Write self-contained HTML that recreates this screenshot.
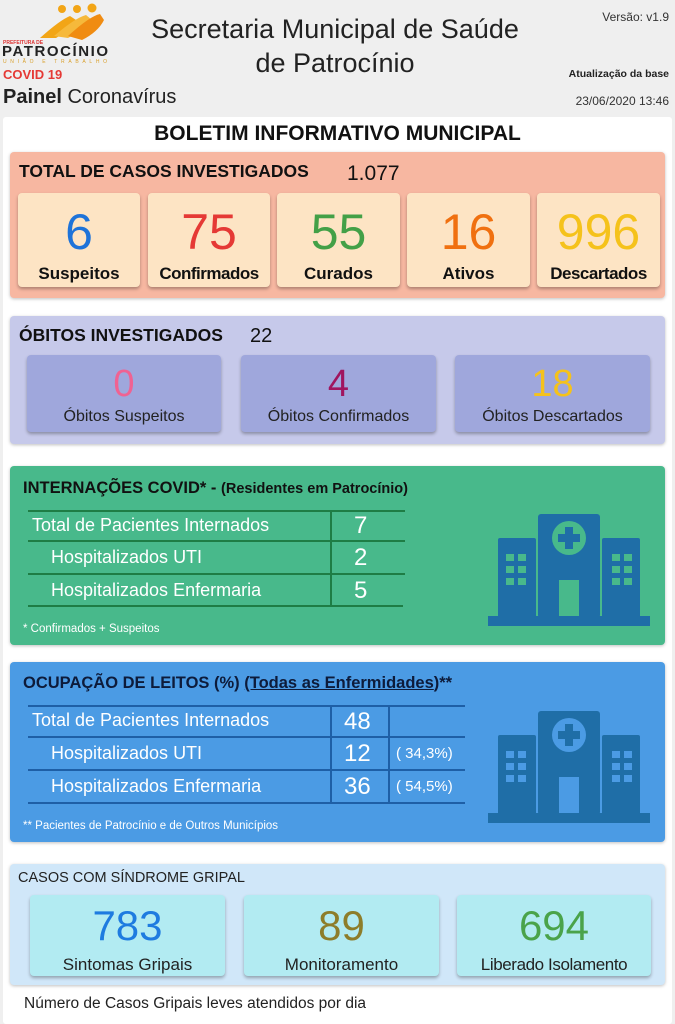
<!DOCTYPE html>
<html><head><meta charset="utf-8"><style>
*{margin:0;padding:0;box-sizing:border-box}
body{width:675px;height:1024px;background:#efefef;font-family:"Liberation Sans",sans-serif;position:relative;overflow:hidden;color:#111}
.a{position:absolute;white-space:nowrap;line-height:1}
.c{text-align:center}
.box{position:absolute;border-radius:4px;box-shadow:0 1px 3px rgba(0,0,0,.25)}
.card{position:absolute;border-radius:4px;box-shadow:0 2px 3px rgba(0,0,0,.3);text-align:center}
.card div{line-height:1}
.b{font-weight:bold}
.ln{position:absolute;height:2px}
.vl{position:absolute;width:2px}
.w{color:#fff}
</style></head><body>
<svg class="a" style="left:0;top:0" width="112" height="68" viewBox="0 0 112 68">
<g fill="#f2a516">
<circle cx="62" cy="9" r="4"/><circle cx="77" cy="9" r="4"/><circle cx="92" cy="8" r="4.5"/>
<path d="M40 38 Q60 20 70 16 L76 20 Q70 30 56 38 Z"/>
<path d="M54 36 Q75 18 86 15 L92 20 Q84 30 68 38 Z" fill="#f6b93b"/>
<path d="M68 36 Q90 16 100 14 L104 20 Q98 32 82 40 Z" fill="#f08c12"/>
</g>
<text x="3" y="44" font-size="5" fill="#d33" font-family="Liberation Sans" font-weight="bold">PREFEITURA DE</text>
<text x="2" y="56" font-size="15" fill="#222" font-family="Liberation Sans" font-weight="bold" textLength="106">PATROCÍNIO</text>
<text x="3" y="63" font-size="5" fill="#d9a02c" font-family="Liberation Sans" textLength="104">UNIÃO E TRABALHO</text>
</svg>
<div class="a b" style="left:3px;top:68px;font-size:13px;color:#e53935">COVID 19</div>
<div class="a" style="left:3px;top:87px;font-size:20px;color:#222"><b>Painel</b> Coronavírus</div>
<div class="a c" style="left:120px;width:430px;top:12px;font-size:27px;color:#222;line-height:34px">Secretaria Municipal de Saúde<br>de Patrocínio</div>
<div class="a" style="right:6px;top:11px;font-size:12px;color:#333">Versão: v1.9</div>
<div class="a b" style="right:6px;top:69px;font-size:10.5px;color:#222">Atualização da base</div>
<div class="a" style="right:6px;top:95px;font-size:12px;color:#333">23/06/2020 13:46</div>

<div class="a" style="left:3px;top:117px;width:669px;height:907px;background:#fff;border-radius:3px"></div>
<div class="a c b" style="left:0;width:675px;top:123px;font-size:21px">BOLETIM INFORMATIVO MUNICIPAL</div>

<div class="box" style="left:10px;top:152px;width:655px;height:146px;background:#f7b7a1"></div>
<div class="a b" style="left:19px;top:163px;font-size:17.5px">TOTAL DE CASOS INVESTIGADOS</div>
<div class="a" style="left:347px;top:163px;font-size:21px">1.077</div>
<div class="card" style="left:18px;top:193px;width:122px;height:94px;background:#fde4c4"><div style="font-size:50px;color:#1e73d9;margin-top:14px">6</div><div class="b" style="font-size:17px;margin-top:8px">Suspeitos</div></div>
<div class="card" style="left:148px;top:193px;width:122px;height:94px;background:#fde4c4"><div style="font-size:50px;color:#e53935;margin-top:14px">75</div><div class="b" style="font-size:17px;margin-top:8px;letter-spacing:-.5px">Confirmados</div></div>
<div class="card" style="left:277px;top:193px;width:123px;height:94px;background:#fde4c4"><div style="font-size:50px;color:#43a047;margin-top:14px">55</div><div class="b" style="font-size:17px;margin-top:8px">Curados</div></div>
<div class="card" style="left:407px;top:193px;width:123px;height:94px;background:#fde4c4"><div style="font-size:50px;color:#f07010;margin-top:14px">16</div><div class="b" style="font-size:17px;margin-top:8px">Ativos</div></div>
<div class="card" style="left:537px;top:193px;width:123px;height:94px;background:#fde4c4"><div style="font-size:50px;color:#f5c21b;margin-top:14px">996</div><div class="b" style="font-size:17px;margin-top:8px;letter-spacing:-.5px">Descartados</div></div>

<div class="box" style="left:10px;top:316px;width:655px;height:128px;background:#c6c9ea"></div>
<div class="a b" style="left:19px;top:327px;font-size:17.5px">ÓBITOS INVESTIGADOS</div>
<div class="a" style="left:250px;top:326px;font-size:20px">22</div>
<div class="card" style="left:27px;top:355px;width:194px;height:77px;background:#9fa7dc"><div style="font-size:38px;color:#f06292;margin-top:10px">0</div><div style="font-size:16px;margin-top:6px;color:#222">Óbitos Suspeitos</div></div>
<div class="card" style="left:241px;top:355px;width:195px;height:77px;background:#9fa7dc"><div style="font-size:38px;color:#a0155f;margin-top:10px">4</div><div style="font-size:16px;margin-top:6px;color:#222">Óbitos Confirmados</div></div>
<div class="card" style="left:455px;top:355px;width:195px;height:77px;background:#9fa7dc"><div style="font-size:38px;color:#f5c21b;margin-top:10px">18</div><div style="font-size:16px;margin-top:6px;color:#222">Óbitos Descartados</div></div>

<div class="box" style="left:10px;top:466px;width:655px;height:179px;background:#48b98b"></div>
<div class="a b" style="left:23px;top:480px;font-size:16.5px">INTERNAÇÕES COVID* - <span style="font-size:14.5px">(Residentes em Patrocínio)</span></div>
<div class="ln" style="left:28px;top:510px;width:377px;background:#1e7d45"></div>
<div class="ln" style="left:28px;top:540px;width:377px;background:#1e7d45"></div>
<div class="ln" style="left:28px;top:573px;width:377px;background:#1e7d45"></div>
<div class="ln" style="left:28px;top:605px;width:375px;background:#1e7d45"></div>
<div class="vl" style="left:330px;top:510px;height:96px;background:#1e7d45"></div>
<div class="a w" style="left:32px;top:516px;font-size:18px">Total de Pacientes Internados</div>
<div class="a w" style="left:51px;top:548px;font-size:18px">Hospitalizados UTI</div>
<div class="a w" style="left:51px;top:581px;font-size:18px">Hospitalizados Enfermaria</div>
<div class="a w" style="left:354px;top:514px;font-size:24px">7</div>
<div class="a w" style="left:354px;top:546px;font-size:24px">2</div>
<div class="a w" style="left:354px;top:579px;font-size:24px">5</div>
<div class="a w" style="left:23px;top:624px;font-size:11.5px">* Confirmados + Suspeitos</div>
<svg class="a" style="left:488px;top:514px" width="162" height="112" viewBox="0 0 162 112"><g fill="#1f6ea7">
<rect x="50" y="0" width="62" height="104" rx="3"/><rect x="10" y="24" width="38" height="80" rx="2"/><rect x="114" y="24" width="38" height="80" rx="2"/><rect x="0" y="102" width="162" height="10"/></g>
<circle cx="81" cy="24" r="17" fill="#48b98b"/><g fill="#1f6ea7"><rect x="77" y="13" width="8" height="22"/><rect x="70" y="20" width="22" height="8"/></g>
<g fill="#48b98b"><rect x="71" y="66" width="20" height="36"/>
<rect x="18" y="40" width="8" height="7"/><rect x="30" y="40" width="8" height="7"/><rect x="18" y="52" width="8" height="7"/><rect x="30" y="52" width="8" height="7"/><rect x="18" y="64" width="8" height="7"/><rect x="30" y="64" width="8" height="7"/>
<rect x="124" y="40" width="8" height="7"/><rect x="136" y="40" width="8" height="7"/><rect x="124" y="52" width="8" height="7"/><rect x="136" y="52" width="8" height="7"/><rect x="124" y="64" width="8" height="7"/><rect x="136" y="64" width="8" height="7"/></g></svg>

<div class="box" style="left:10px;top:662px;width:655px;height:180px;background:#4b9be4"></div>
<div class="a b" style="left:23px;top:675px;font-size:16.5px;color:#0d1b3a">OCUPAÇÃO DE LEITOS (%) <span style="text-decoration:underline">(Todas as Enfermidades</span>)**</div>
<div class="ln" style="left:28px;top:705px;width:437px;background:#1e5fa6"></div>
<div class="ln" style="left:28px;top:736px;width:437px;background:#1e5fa6"></div>
<div class="ln" style="left:28px;top:769px;width:437px;background:#1e5fa6"></div>
<div class="ln" style="left:28px;top:802px;width:437px;background:#1e5fa6"></div>
<div class="vl" style="left:330px;top:705px;height:98px;background:#1e5fa6"></div>
<div class="vl" style="left:388px;top:705px;height:98px;background:#1e5fa6"></div>
<div class="a w" style="left:32px;top:711px;font-size:18px">Total de Pacientes Internados</div>
<div class="a w" style="left:51px;top:744px;font-size:18px">Hospitalizados UTI</div>
<div class="a w" style="left:51px;top:777px;font-size:18px">Hospitalizados Enfermaria</div>
<div class="a w" style="left:344px;top:710px;font-size:24px">48</div>
<div class="a w" style="left:344px;top:742px;font-size:24px">12</div>
<div class="a w" style="left:344px;top:775px;font-size:24px">36</div>
<div class="a w" style="left:396px;top:746px;font-size:15px">( 34,3%)</div>
<div class="a w" style="left:396px;top:779px;font-size:15px">( 54,5%)</div>
<div class="a w" style="left:23px;top:821px;font-size:11.5px">** Pacientes de Patrocínio e de Outros Municípios</div>
<svg class="a" style="left:488px;top:711px" width="162" height="112" viewBox="0 0 162 112"><g fill="#1f6ea7">
<rect x="50" y="0" width="62" height="104" rx="3"/><rect x="10" y="24" width="38" height="80" rx="2"/><rect x="114" y="24" width="38" height="80" rx="2"/><rect x="0" y="102" width="162" height="10"/></g>
<circle cx="81" cy="24" r="17" fill="#4b9be4"/><g fill="#1f6ea7"><rect x="77" y="13" width="8" height="22"/><rect x="70" y="20" width="22" height="8"/></g>
<g fill="#4b9be4"><rect x="71" y="66" width="20" height="36"/>
<rect x="18" y="40" width="8" height="7"/><rect x="30" y="40" width="8" height="7"/><rect x="18" y="52" width="8" height="7"/><rect x="30" y="52" width="8" height="7"/><rect x="18" y="64" width="8" height="7"/><rect x="30" y="64" width="8" height="7"/>
<rect x="124" y="40" width="8" height="7"/><rect x="136" y="40" width="8" height="7"/><rect x="124" y="52" width="8" height="7"/><rect x="136" y="52" width="8" height="7"/><rect x="124" y="64" width="8" height="7"/><rect x="136" y="64" width="8" height="7"/></g></svg>

<div class="box" style="left:10px;top:864px;width:655px;height:121px;background:#d0e7f9"></div>
<div class="a" style="left:18px;top:871px;font-size:14.5px;color:#222">CASOS COM SÍNDROME GRIPAL</div>
<div class="card" style="left:30px;top:895px;width:195px;height:81px;background:#b2ebf2"><div style="font-size:42px;color:#1e7be0;margin-top:10px">783</div><div style="font-size:17px;margin-top:9px;color:#222">Sintomas Gripais</div></div>
<div class="card" style="left:244px;top:895px;width:195px;height:81px;background:#b2ebf2"><div style="font-size:42px;color:#8d7d2a;margin-top:10px">89</div><div style="font-size:17px;margin-top:9px;color:#222">Monitoramento</div></div>
<div class="card" style="left:457px;top:895px;width:194px;height:81px;background:#b2ebf2"><div style="font-size:42px;color:#4aa34a;margin-top:10px">694</div><div style="font-size:17px;margin-top:9px;color:#222;letter-spacing:-.4px">Liberado Isolamento</div></div>
<div class="a" style="left:24px;top:996px;font-size:15.5px;color:#222">Número de Casos Gripais leves atendidos por dia</div>
</body></html>
